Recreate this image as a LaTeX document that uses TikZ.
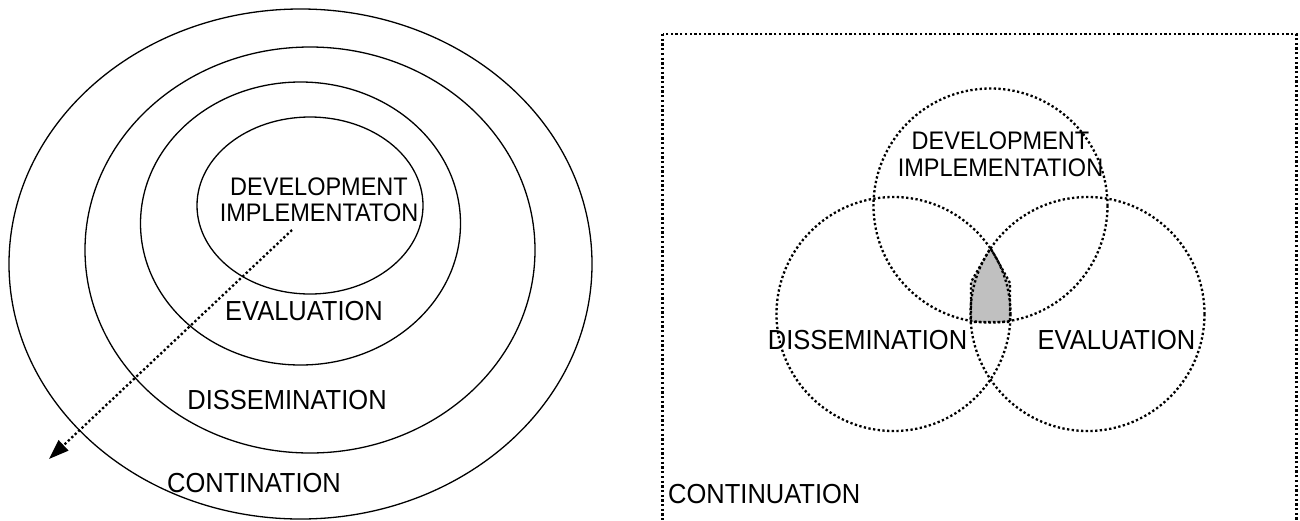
\documentclass[tikz,border=0pt]{standalone}
\usepackage{fontspec}
\usepackage{graphicx}
\setmainfont{Liberation Sans}
\usetikzlibrary{arrows.meta}
\definecolor{overlapgray}{RGB}{192,192,192}
% slightly tall lettering
\newcommand{\tallcaps}[1]{\scalebox{1}[1.08]{#1}}
\begin{document}
\begin{tikzpicture}[x=1pt,y=-1pt,
  ring/.style={draw=black,line width=1.3pt},
  dotline/.style={draw=black,line width=2.3pt,dash pattern=on 2.3pt off 2.4pt},
  biglabel/.style={font=\fontsize{25.5}{28}\selectfont,inner sep=0pt},
  pairlabel/.style={font=\fontsize{23.5}{26.5}\selectfont,align=center,inner sep=0pt},
]
\useasboundingbox (0,0) rectangle (1300,520);
\begin{scope}
\clip (0,0) rectangle (1300,520);

% ---- nested rings of the left model ----
\draw[ring] (300.5,264) ellipse [x radius=291.5, y radius=255];
\draw[ring] (310,250) ellipse [x radius=225, y radius=203];
\draw[ring] (300.5,223.5) ellipse [x radius=160, y radius=141.5];
\draw[ring] (310,205.5) ellipse [x radius=113, y radius=88.5];

\node[pairlabel] (devL) at (319,200) {\tallcaps{DEVELOPMENT}\\\tallcaps{IMPLEMENTATON}};
\node[biglabel] (evalL) at (304,311.5) {\tallcaps{EVALUATION}};
\node[biglabel] (dissL) at (287,400.5) {\tallcaps{DISSEMINATION}};
\node[biglabel] (contL) at (254,483.5) {\tallcaps{CONTINATION}};

% outward arrow
\coordinate (arrowstart) at (292,230);
\coordinate (arrowend) at (49,459);
\draw[dotline,-{Triangle[length=20pt,width=14pt]}] (arrowstart) -- (arrowend);

% ---- overlapping circles of the right model ----
\draw[dotline] (662.5,34) rectangle (1296.5,545);

\filldraw[dotline,fill=overlapgray]
  (990.5,248) -- (1010,283) -- (1010,322) -- (971,322) -- (971,282) -- cycle;

\draw[dotline] (990.5,205.5) circle [radius=117];
\draw[dotline] (893.5,314) circle [radius=117];
\draw[dotline] (1087.5,314) circle [radius=117];

\node[pairlabel] (devR) at (1000.5,154.5) {\tallcaps{DEVELOPMENT}\\\tallcaps{IMPLEMENTATION}};
\node[biglabel] (dissR) at (867.5,340.5) {\tallcaps{DISSEMINATION}};
\node[biglabel] (evalR) at (1116.5,340.5) {\tallcaps{EVALUATION}};
\node[biglabel,anchor=west] (contR) at (668,494.5) {\tallcaps{CONTINUATION}};
\end{scope}
\end{tikzpicture}
\end{document}
